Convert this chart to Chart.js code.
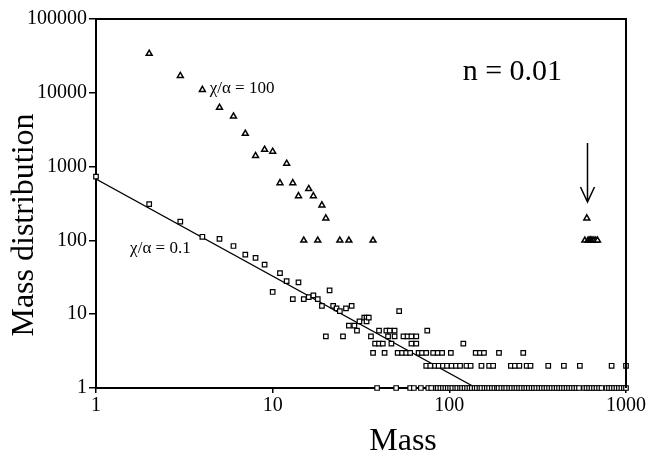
<!DOCTYPE html>
<html>
<head>
<meta charset="utf-8">
<script src="https://cdn.jsdelivr.net/npm/chart.js@4/dist/chart.umd.min.js"></script>
<style>
  body { margin: 0; background: #fff; }
  canvas { display: block; }
</style>
</head>
<body>
<canvas id="chart" width="649" height="457"></canvas>
<script>
// tick values
const X_TICKS = [1, 10, 100, 1000];
const Y_TICKS = [1, 10, 100, 1000, 10000, 100000];

// chi/alpha = 100 (triangles)
const TRI_X = [2, 3, 4, 5, 6, 7, 8, 9, 10, 11, 12, 13, 14, 15, 16, 17, 18, 19, 20, 24, 27, 37,
  585, 600, 610, 620, 630, 640, 650, 660, 675, 690];
const TRI_Y = [34000, 17000, 11000, 6300, 4800, 2800, 1400, 1700, 1600, 600, 1100, 600, 400, 100, 500, 400, 100, 300, 200, 100, 100, 100,
  100, 200, 100, 100, 100, 100, 100, 100, 100, 100];

// chi/alpha = 0.1 (squares), scattered part
const SQ_X = [1, 2, 3, 4, 5, 6, 7, 8, 9, 10, 11, 12, 13, 14, 15, 16, 17, 18, 19, 20, 21, 22, 23, 24, 25, 26, 27, 28, 29, 30,
  31, 33, 34, 34, 35, 36, 38, 40, 40, 42, 44, 45, 46, 47, 49, 49, 52, 55, 58, 61, 61, 65, 65, 75, 120];
const SQ_Y = [730, 310, 180, 112, 105, 84, 64, 58, 47, 20, 36, 28, 16, 27, 16, 17, 18, 16, 13, 5, 21, 13, 12, 11, 5, 12, 7, 13, 7, 6,
  8, 9, 9, 8, 9, 5, 4, 4, 6, 4, 6, 5, 6, 4, 6, 5, 11, 5, 5, 5, 4, 5, 4, 6, 4];

// squares sitting on the rows of count 3, 2 and 1
const ROW_COUNTS = [3, 2, 1];
const ROW3_X = [37, 43, 51, 54, 57, 60, 67, 70, 74, 81, 86, 91, 102, 141, 149, 157, 191, 262];
const ROW2_X = [74, 78, 83, 87, 92, 97, 103, 109, 115, 125, 132, 152, 168, 177, 223, 235, 249, 274, 288, 363, 445, 548, 829, 1000];
const ROW1_X = [39, 50, 60, 63, 69, 76, 79, 84, 86, 89, 92, 95, 98, 101, 104, 108, 111, 115, 118, 122, 126, 130, 134, 139,
  143, 148, 152, 158, 163, 168, 174, 180, 186, 190, 197, 204, 210, 218, 225, 233, 240, 248, 256, 265, 273, 282, 292, 301,
  311, 322, 333, 344, 355, 367, 379, 392, 405, 418, 432, 446, 461, 476, 492, 508, 525, 542, 579, 598, 618, 638, 659, 681,
  704, 727, 776, 801, 828, 855, 883, 912, 942, 973, 1000];

// power-law fit line
const LINE_X = [1, 142];
const LINE_Y = [680, 1];

// annotations (data coordinates)
const ARROW = { x: 600, from: 2090, to: 331 };
const LABELS = [
  { text: '\u03C7/\u03B1 = 100', x: 4.4, y: 10000, size: 17 },
  { text: '\u03C7/\u03B1 = 0.1', x: 1.56, y: 68, size: 17 },
  { text: 'n = 0.01', x: 119, y: 14900, size: 30 }
];

const FONT = "'Liberation Serif', 'Times New Roman', serif";

const pts = (xs, ys) => xs.map((x, i) => ({ x, y: ys[i] }));
const rowPts = (xs, c) => xs.map((x) => ({ x, y: c }));

const squares = pts(SQ_X, SQ_Y)
  .concat(rowPts(ROW3_X, ROW_COUNTS[0]))
  .concat(rowPts(ROW2_X, ROW_COUNTS[1]))
  .concat(rowPts(ROW1_X, ROW_COUNTS[2]));

const extras = {
  id: 'extras',
  afterDatasetsDraw(chart) {
    const { ctx, chartArea: a, scales: { x, y } } = chart;
    ctx.save();
    // top and right frame
    ctx.strokeStyle = '#000';
    ctx.lineWidth = 2;
    ctx.beginPath();
    ctx.moveTo(a.left, a.top);
    ctx.lineTo(a.right, a.top);
    ctx.lineTo(a.right, a.bottom);
    ctx.stroke();

    // arrow
    const ax = Math.round(x.getPixelForValue(ARROW.x)) + 0.5;
    const y0 = y.getPixelForValue(ARROW.from);
    const y1 = y.getPixelForValue(ARROW.to);
    ctx.lineWidth = 1.5;
    ctx.beginPath();
    ctx.moveTo(ax, y0);
    ctx.lineTo(ax, y1);
    ctx.moveTo(ax - 7, y1 - 15);
    ctx.lineTo(ax, y1);
    ctx.lineTo(ax + 7, y1 - 15);
    ctx.stroke();

    // labels
    ctx.fillStyle = '#000';
    ctx.textBaseline = 'alphabetic';
    ctx.textAlign = 'left';
    LABELS.forEach((l) => {
      ctx.font = l.size + 'px ' + FONT;
      ctx.fillText(l.text, x.getPixelForValue(l.x), y.getPixelForValue(l.y));
    });

    // axis titles
    ctx.font = '32px ' + FONT;
    ctx.textAlign = 'center';
    ctx.fillText('Mass', 403, 450);
    ctx.translate(33, 225);
    ctx.rotate(-Math.PI / 2);
    ctx.fillText('Mass distribution', 0, 0);
    ctx.restore();
  }
};

new Chart(document.getElementById('chart'), {
  type: 'scatter',
  data: {
    datasets: [
      {
        label: 'fit',
        data: pts(LINE_X, LINE_Y),
        showLine: true,
        borderColor: '#000',
        borderWidth: 1.3,
        pointRadius: 0,
        order: 3
      },
      {
        label: 'chi/alpha = 0.1',
        data: squares,
        pointStyle: 'rect',
        pointRadius: 3.2,
        borderWidth: 1.2,
        borderColor: '#000',
        backgroundColor: '#fff',
        clip: false,
        order: 2
      },
      {
        label: 'chi/alpha = 100',
        data: pts(TRI_X, TRI_Y),
        pointStyle: 'triangle',
        pointRadius: 3.4,
        borderWidth: 1.5,
        borderColor: '#000',
        backgroundColor: '#fff',
        clip: false,
        order: 1
      }
    ]
  },
  options: {
    responsive: false,
    animation: false,
    devicePixelRatio: 1,
    layout: { padding: { left: 0, right: 23, top: 19, bottom: 0 } },
    plugins: { legend: { display: false }, tooltip: { enabled: false } },
    scales: {
      x: {
        type: 'logarithmic',
        min: 1,
        max: 1000,
        afterBuildTicks: (s) => { s.ticks = X_TICKS.map((v) => ({ value: v })); },
        afterFit: (s) => { s.height = 69; },
        ticks: {
          color: '#000',
          font: { family: FONT, size: 20 },
          padding: 1,
          maxRotation: 0,
          autoSkip: false,
          callback: (v) => String(v)
        },
        grid: { drawOnChartArea: false, drawTicks: true, tickLength: 5, color: '#000', lineWidth: 1.5 },
        border: { display: true, color: '#000', width: 2 }
      },
      y: {
        type: 'logarithmic',
        min: 1,
        max: 100000,
        afterBuildTicks: (s) => { s.ticks = Y_TICKS.map((v) => ({ value: v })); },
        afterFit: (s) => { s.width = 96; },
        ticks: {
          color: '#000',
          font: { family: FONT, size: 20 },
          padding: 2,
          autoSkip: false,
          callback: (v) => String(v)
        },
        grid: { drawOnChartArea: false, drawTicks: true, tickLength: 7, color: '#000', lineWidth: 1.5 },
        border: { display: true, color: '#000', width: 2 }
      }
    }
  },
  plugins: [extras]
});
</script>
</body>
</html>
